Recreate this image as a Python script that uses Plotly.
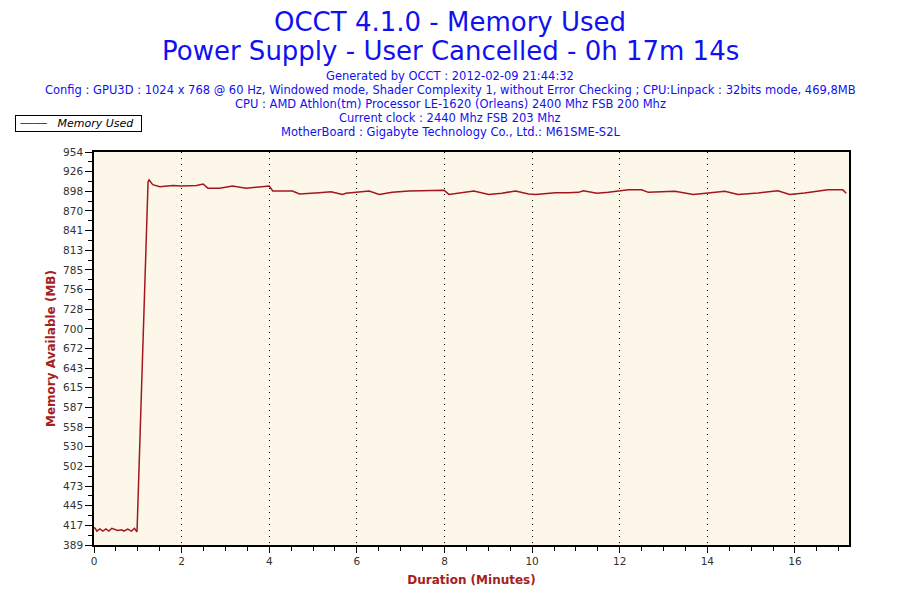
import plotly.graph_objects as go

# Memory used over time (minutes, MB)
minutes = [
    0.0, 0.027, 0.066, 0.134, 0.203, 0.271, 0.339, 0.407, 0.537, 0.635,
    0.68, 0.77, 0.856, 0.924, 0.977, 0.983, 1.234, 1.257, 1.34, 1.50,
    1.80, 1.99, 2.34, 2.49, 2.60, 2.87, 3.16, 3.47, 4.00, 4.08,
    4.53, 4.69, 5.14, 5.41, 5.60, 5.67, 5.75, 6.05, 6.28, 6.51,
    6.81, 7.19, 7.87, 7.99, 8.10, 8.40, 8.67, 9.01, 9.31, 9.62,
    9.92, 10.08, 10.53, 10.83, 11.06, 11.17, 11.48, 11.74, 12.20, 12.50,
    12.65, 13.26, 13.68, 14.02, 14.40, 14.70, 15.16, 15.61, 15.88, 16.22,
    16.45, 16.75, 17.09, 17.17,
]
memory_used = [
    414, 413, 409, 412, 409, 412, 409, 413, 410, 411,
    409, 412, 409, 413, 408, 410, 911, 914, 907, 904,
    906, 905, 906, 908, 902, 902, 905, 902, 905, 898,
    898, 893.6, 895.5, 897, 894, 893, 894.7, 896, 898, 893,
    896, 898, 899.6, 899, 893, 896, 898, 893, 894.7, 898,
    893.6, 893, 895.5, 895.5, 896, 898.4, 894.7, 896, 899.6, 899.6,
    896, 897.4, 893, 895, 897.4, 893, 895, 898.4, 893, 895,
    897.4, 899.6, 899.6, 894.7,
]

y_tick_labels = [
    "389", "417", "445", "473", "502", "530", "558", "587", "615", "643",
    "672", "700", "728", "756", "785", "813", "841", "870", "898", "926", "954",
]
y_min, y_max = 389, 954
y_tick_vals = [y_min + i * (y_max - y_min) / 20 for i in range(21)]
duration_end = 17 + 14 / 60

header_lines = [
    "Generated by OCCT : 2012-02-09 21:44:32",
    "Config : GPU3D : 1024 x 768 @ 60 Hz, Windowed mode, Shader Complexity 1, "
    "without Error Checking ; CPU:Linpack : 32bits mode, 469,8MB",
    "CPU : AMD Athlon(tm) Processor LE-1620 (Orleans) 2400 Mhz FSB 200 Mhz",
    "Current clock : 2440 Mhz FSB 203 Mhz",
    "MotherBoard : Gigabyte Technology Co., Ltd.: M61SME-S2L",
]

BLUE = "#1010F0"
DARK_RED = "#A52020"
LINE_RED = "#A3171C"

# the page body has an 8px margin, so the figure is drawn 8px smaller
OFF = 8
FIG_W, FIG_H = 900 - OFF, 600 - OFF
# plot area in screen pixels: x 94..849, y 152..545
L, R, T, B = 94 - OFF, 51, 152 - OFF, 55
H = FIG_H - T - B
W = FIG_W - L - R


def py(pix_y):
    return (545 - pix_y) / H


def px(pix_x):
    return (pix_x - 94) / W


fig = go.Figure()
fig.add_trace(
    go.Scatter(
        x=minutes,
        y=memory_used,
        mode="lines",
        name="Memory Used",
        line=dict(color=LINE_RED, width=1.5),
        showlegend=False,
    )
)

annotations = [
    dict(text="OCCT 4.1.0 - Memory Used", y=py(22), font=dict(size=26, color=BLUE)),
    dict(
        text="Power Supply - User Cancelled - 0h 17m 14s",
        y=py(51),
        font=dict(size=26, color=BLUE),
    ),
]
for i, line in enumerate(header_lines):
    annotations.append(dict(text=line, y=py(76 + 14 * i), font=dict(size=11.5, color=BLUE)))
for a in annotations:
    a.update(x=px(450), xref="paper", yref="paper", showarrow=False,
             xanchor="center", yanchor="middle")

# compact legend box like the original
annotations.append(
    dict(
        text=f' <span style="color:{LINE_RED}">────</span>   <i>Memory Used</i>  ',
        x=px(15),
        y=py(115),
        xref="paper",
        yref="paper",
        xanchor="left",
        yanchor="top",
        showarrow=False,
        bordercolor="black",
        borderwidth=1,
        borderpad=1,
        bgcolor="white",
        font=dict(size=11, color="black"),
    )
)

fig.update_layout(
    width=FIG_W,
    height=FIG_H,
    margin=dict(l=L, r=R, t=T, b=B),
    paper_bgcolor="white",
    plot_bgcolor="#FDF7E9",
    font=dict(family="DejaVu Sans, Verdana, sans-serif", size=11, color="#333333"),
    annotations=annotations,
    showlegend=False,
    xaxis=dict(
        range=[0, duration_end],
        dtick=2,
        tick0=0,
        automargin=False,
        showgrid=True,
        gridcolor="black",
        griddash="1px,5px",
        gridwidth=1,
        zeroline=False,
        showline=True,
        linecolor="black",
        linewidth=1.5,
        mirror=True,
        ticks="outside",
        ticklen=6,
        tickcolor="black",
        minor=dict(dtick=0.5, ticks="outside", ticklen=4, tickcolor="black", showgrid=False),
        tickfont=dict(size=10.5, color="#333333"),
        title=dict(
            text="<b>Duration (Minutes)</b>",
            font=dict(size=12, color=DARK_RED),
            standoff=9,
        ),
    ),
    yaxis=dict(
        range=[y_min, y_max],
        tickmode="array",
        tickvals=y_tick_vals,
        ticktext=y_tick_labels,
        automargin=False,
        showgrid=False,
        zeroline=False,
        showline=True,
        linecolor="black",
        linewidth=1.5,
        mirror=True,
        ticks="outside",
        ticklen=7,
        tickcolor="black",
        minor=dict(
            tickvals=[v + (y_max - y_min) / 40 for v in y_tick_vals[:-1]],
            ticks="outside",
            ticklen=4,
            tickcolor="black",
            showgrid=False,
        ),
        tickfont=dict(size=10.5, color="#333333"),
        title=dict(
            text="<b>Memory Available (MB)</b>",
            font=dict(size=12, color=DARK_RED),
            standoff=5,
        ),
    ),
)

fig.write_html("out.html")
